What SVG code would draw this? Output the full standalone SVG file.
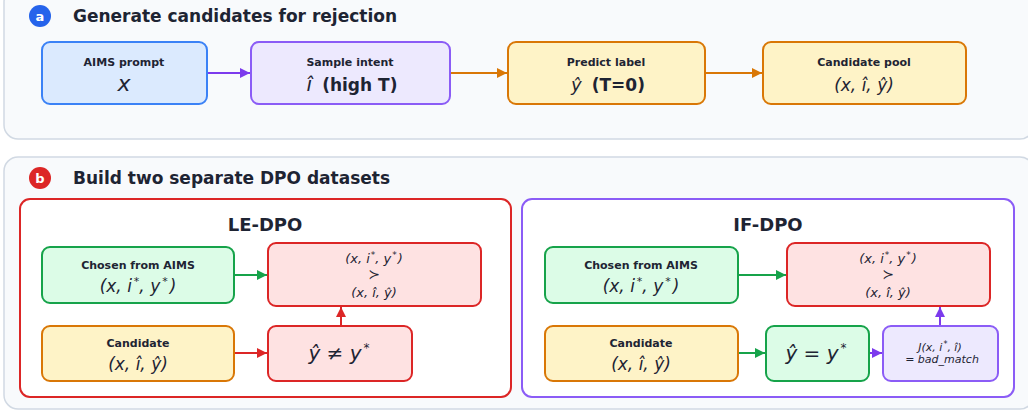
<svg xmlns="http://www.w3.org/2000/svg" width="1028" height="412" viewBox="0 0 1028 412">
<defs>
<style>
text{font-family:"DejaVu Sans",sans-serif;fill:#1e2433}
.panel{fill:#f8fafc;stroke:#d1d9e3;stroke-width:1.5}
.t{font-size:17px;font-weight:bold}
.lbl{font-size:11px;font-weight:bold;text-anchor:middle}
.m{font-style:italic;text-anchor:middle}
.big{font-size:18px;font-weight:bold;text-anchor:middle}
.blue{fill:#dbeafe;stroke:#3b82f6;stroke-width:2}
.purple{fill:#ede9fe;stroke:#8b5cf6;stroke-width:2}
.orange{fill:#fef3c7;stroke:#d97706;stroke-width:2}
.green{fill:#dcfce7;stroke:#16a34a;stroke-width:2}
.red{fill:#fee2e2;stroke:#dc2626;stroke-width:2}
.c{stroke-width:2;fill:none}
</style>
<marker id="ap" viewBox="0 0 10 10" refX="10" refY="5" markerWidth="5" markerHeight="5" orient="auto"><path d="M0,0L10,5L0,10z" fill="#7c3aed"/></marker>
<marker id="ao" viewBox="0 0 10 10" refX="10" refY="5" markerWidth="5" markerHeight="5" orient="auto"><path d="M0,0L10,5L0,10z" fill="#d97706"/></marker>
<marker id="ag" viewBox="0 0 10 10" refX="10" refY="5" markerWidth="5" markerHeight="5" orient="auto"><path d="M0,0L10,5L0,10z" fill="#16a34a"/></marker>
<marker id="ar" viewBox="0 0 10 10" refX="10" refY="5" markerWidth="5" markerHeight="5" orient="auto"><path d="M0,0L10,5L0,10z" fill="#dc2626"/></marker>
</defs>
<rect x="0" y="0" width="1028" height="412" fill="#ffffff"/>

<g id="panel-a">
<rect class="panel" x="4" y="-12" width="1030" height="151" rx="14"/>
<circle cx="40" cy="16" r="11" fill="#2563eb"/>
<text x="40" y="21" style="font-size:13px;font-weight:bold;fill:#fff;text-anchor:middle">a</text>
<text class="t" x="73" y="22">Generate candidates for rejection</text>
</g>

<g id="panel-b">
<rect class="panel" x="4" y="157" width="1030" height="252" rx="14"/>
<circle cx="40" cy="178" r="11" fill="#dc2626"/>
<text x="40" y="183" style="font-size:13px;font-weight:bold;fill:#fff;text-anchor:middle">b</text>
<text class="t" x="73" y="184">Build two separate DPO datasets</text>
</g>

<g id="le-dpo">
<rect x="20" y="199" width="491" height="198" rx="10" fill="#fff" stroke="#dc2626" stroke-width="2"/>
<text class="big" x="265" y="231">LE-DPO</text>
</g>
<g id="if-dpo">
<rect x="522" y="199" width="492" height="198" rx="10" fill="#fff" stroke="#8b5cf6" stroke-width="2"/>
<text class="big" x="768" y="231">IF-DPO</text>
</g>

<g id="connectors">
<line class="c" x1="207" y1="73" x2="250" y2="73" stroke="#7c3aed" marker-end="url(#ap)"/>
<line class="c" x1="450" y1="73" x2="507" y2="73" stroke="#d97706" marker-end="url(#ao)"/>
<line class="c" x1="705" y1="73" x2="762" y2="73" stroke="#d97706" marker-end="url(#ao)"/>
<line class="c" x1="234" y1="275" x2="267" y2="275" stroke="#16a34a" marker-end="url(#ag)"/>
<line class="c" x1="234" y1="353" x2="267" y2="353" stroke="#dc2626" marker-end="url(#ar)"/>
<line class="c" x1="341" y1="326" x2="341" y2="307" stroke="#dc2626" marker-end="url(#ar)"/>
<line class="c" x1="738" y1="275" x2="786" y2="275" stroke="#16a34a" marker-end="url(#ag)"/>
<line class="c" x1="738" y1="353" x2="765" y2="353" stroke="#16a34a" marker-end="url(#ag)"/>
<line class="c" x1="869" y1="353" x2="882" y2="353" stroke="#7c3aed" marker-end="url(#ap)"/>
<line class="c" x1="940" y1="326" x2="940" y2="307" stroke="#7c3aed" marker-end="url(#ap)"/>
</g>

<g id="aims-prompt">
<rect class="blue" x="42" y="42" width="165" height="62" rx="8"/>
<text class="lbl" x="124" y="66">AIMS prompt</text>
<text class="m" x="124" y="91" style="font-size:22px">x</text>
</g>
<g id="sample-intent">
<rect class="purple" x="251" y="42" width="199" height="62" rx="8"/>
<text class="lbl" x="350" y="66">Sample intent</text>
<text x="352" y="91" style="text-anchor:middle"><tspan style="font-style:italic;font-size:20px">î</tspan><tspan style="font-size:17px;font-weight:bold" dx="10">(high T)</tspan></text>
</g>
<g id="predict-label">
<rect class="orange" x="508" y="42" width="197" height="62" rx="8"/>
<text class="lbl" x="606" y="66">Predict label</text>
<text x="608" y="91" style="text-anchor:middle"><tspan style="font-style:italic;font-size:18px">ŷ</tspan><tspan style="font-size:17px;font-weight:bold" dx="10">(T=0)</tspan></text>
</g>
<g id="candidate-pool">
<rect class="orange" x="763" y="42" width="203" height="62" rx="8"/>
<text class="lbl" x="864" y="66">Candidate pool</text>
<text class="m" x="864" y="91" style="font-size:17px">(x, î, ŷ)</text>
</g>

<g id="le-chosen">
<rect class="green" x="42" y="247" width="192" height="56" rx="8"/>
<text class="lbl" x="138" y="269">Chosen from AIMS</text>
<text class="m" x="138" y="292" style="font-size:17px">(x, i<tspan dx="2" dy="-7" style="font-size:11px">*</tspan><tspan dy="7">, y</tspan><tspan dx="2" dy="-7" style="font-size:11px">*</tspan><tspan dx="2" dy="7">)</tspan></text>
</g>
<g id="le-pair">
<rect class="red" x="268" y="243" width="213" height="63" rx="8"/>
<text class="m" x="374" y="263" style="font-size:13px">(x, i<tspan dx="1" dy="-5" style="font-size:9px">*</tspan><tspan dy="5">, y</tspan><tspan dx="1" dy="-5" style="font-size:9px">*</tspan><tspan dx="1" dy="5">)</tspan></text>
<text x="374" y="279" style="font-size:14px;text-anchor:middle">≻</text>
<text class="m" x="374" y="297" style="font-size:13px">(x, î, ŷ)</text>
</g>
<g id="le-candidate">
<rect class="orange" x="42" y="326" width="192" height="55" rx="8"/>
<text class="lbl" x="138" y="347">Candidate</text>
<text class="m" x="138" y="370" style="font-size:17px">(x, î, ŷ)</text>
</g>
<g id="le-neq">
<rect class="red" x="268" y="326" width="144" height="55" rx="8"/>
<text class="m" x="339" y="360" style="font-size:20px">ŷ ≠ y<tspan dx="2" dy="-8" style="font-size:12px">*</tspan></text>
</g>

<g id="if-chosen">
<rect class="green" x="545" y="247" width="193" height="56" rx="8"/>
<text class="lbl" x="641" y="269">Chosen from AIMS</text>
<text class="m" x="641" y="292" style="font-size:17px">(x, i<tspan dx="2" dy="-7" style="font-size:11px">*</tspan><tspan dy="7">, y</tspan><tspan dx="2" dy="-7" style="font-size:11px">*</tspan><tspan dx="2" dy="7">)</tspan></text>
</g>
<g id="if-pair">
<rect class="red" x="787" y="243" width="203" height="63" rx="8"/>
<text class="m" x="888" y="263" style="font-size:13px">(x, i<tspan dx="1" dy="-5" style="font-size:9px">*</tspan><tspan dy="5">, y</tspan><tspan dx="1" dy="-5" style="font-size:9px">*</tspan><tspan dx="1" dy="5">)</tspan></text>
<text x="888" y="279" style="font-size:14px;text-anchor:middle">≻</text>
<text class="m" x="888" y="297" style="font-size:13px">(x, î, ŷ)</text>
</g>
<g id="if-candidate">
<rect class="orange" x="545" y="326" width="193" height="55" rx="8"/>
<text class="lbl" x="641" y="347">Candidate</text>
<text class="m" x="641" y="370" style="font-size:17px">(x, î, ŷ)</text>
</g>
<g id="if-eq">
<rect class="green" x="766" y="326" width="103" height="55" rx="8"/>
<text class="m" x="816" y="360" style="font-size:20px">ŷ = y<tspan dx="2" dy="-8" style="font-size:12px">*</tspan></text>
</g>
<g id="if-judge">
<rect class="purple" x="883" y="326" width="115" height="55" rx="8"/>
<text class="m" x="940" y="351" style="font-size:11px">J(x, i<tspan dx="1" dy="-4" style="font-size:8px">*</tspan><tspan dy="4">, î)</tspan></text>
<text class="m" x="942" y="363" style="font-size:11px"><tspan style="font-style:normal">=</tspan> bad_match</text>
</g>
</svg>
